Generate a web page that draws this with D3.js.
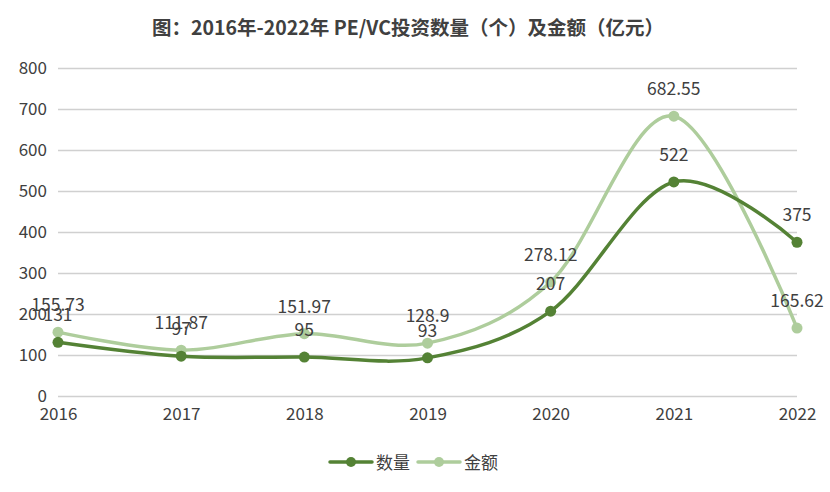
<!DOCTYPE html>
<html><head><meta charset="utf-8">
<script src="https://cdn.jsdelivr.net/npm/d3@7"></script>
<style>body{margin:0;background:#fff}svg{display:block}</style>
</head><body>
<svg id="c" width="830" height="492"></svg>
<script>
const years = ["2016","2017","2018","2019","2020","2021","2022"];
const countValues = [131, 97, 95, 93, 207, 522, 375];
const amountValues = [155.73, 111.87, 151.97, 128.9, 278.12, 682.55, 165.62];
const yTicks = [0,100,200,300,400,500,600,700,800];
const seriesNames = ["数量","金额"];
const title = "图：2016年-2022年 PE/VC投资数量（个）及金额（亿元）";

const svg = d3.select("#c");
const font = "'Microsoft YaHei','Noto Sans CJK SC','Noto Sans',sans-serif";
const x = d3.scalePoint().domain(years).range([58, 797]);
const y = d3.scaleLinear().domain([0, 800]).range([396, 68]);

svg.append("text").attr("x", 408).attr("y", 35).attr("text-anchor","middle")
  .attr("font-family", font).attr("font-size", 19.5).attr("font-weight","bold")
  .attr("fill","#404040").text(title);

const yAxis = d3.axisLeft(y).tickValues(yTicks).tickSize(-(797-58)).tickPadding(11);
const gy = svg.append("g").attr("transform","translate(58,0)").call(yAxis);
gy.select(".domain").remove();
gy.selectAll("line").attr("stroke","#d0d0d0").attr("stroke-width",1.3);
gy.selectAll("text").attr("font-family",font).attr("font-size",17).attr("fill","#404040");

const xAxis = d3.axisBottom(x).tickSize(0).tickPadding(12);
const gx = svg.append("g").attr("transform","translate(0,396)").call(xAxis);
gx.select(".domain").remove();
gx.selectAll("text").attr("font-family",font).attr("font-size",17).attr("fill","#404040");

const colors = ["#548235", "#aecd9c"];
const data = [countValues, amountValues];
const line = d3.line().x((d,i)=>x(years[i])).y(d=>y(d)).curve(d3.curveCardinal.tension(0));

[1,0].forEach(s => {
  svg.append("path").datum(data[s]).attr("d", line).attr("fill","none")
    .attr("stroke", colors[s]).attr("stroke-width", 3.5).attr("stroke-linecap","round");
  svg.selectAll(null).data(data[s]).enter().append("circle")
    .attr("cx",(d,i)=>x(years[i])).attr("cy",d=>y(d)).attr("r",5.5)
    .attr("fill",colors[s]);
});
[0,1].forEach(s => {
  svg.selectAll(null).data(data[s]).enter().append("text")
    .attr("x",(d,i)=>x(years[i])).attr("y",d=>y(d)-21)
    .attr("text-anchor","middle").attr("font-family",font).attr("font-size",17.5)
    .attr("fill","#404040").text(d=>d);
});

const lg = svg.append("g").attr("transform","translate(0,462)");
const items = [{x:330, tx:376}, {x:418, tx:464}];
seriesNames.forEach((n,i) => {
  const it = items[i];
  lg.append("line").attr("x1",it.x).attr("x2",it.x+42).attr("y1",0).attr("y2",0)
    .attr("stroke",colors[i]).attr("stroke-width",3.5).attr("stroke-linecap","round");
  lg.append("circle").attr("cx",it.x+21).attr("cy",0).attr("r",5).attr("fill",colors[i]);
  lg.append("text").attr("x",it.tx).attr("y",6.5).attr("font-family",font)
    .attr("font-size",17).attr("fill","#404040").text(n);
});
</script>
</body></html>
